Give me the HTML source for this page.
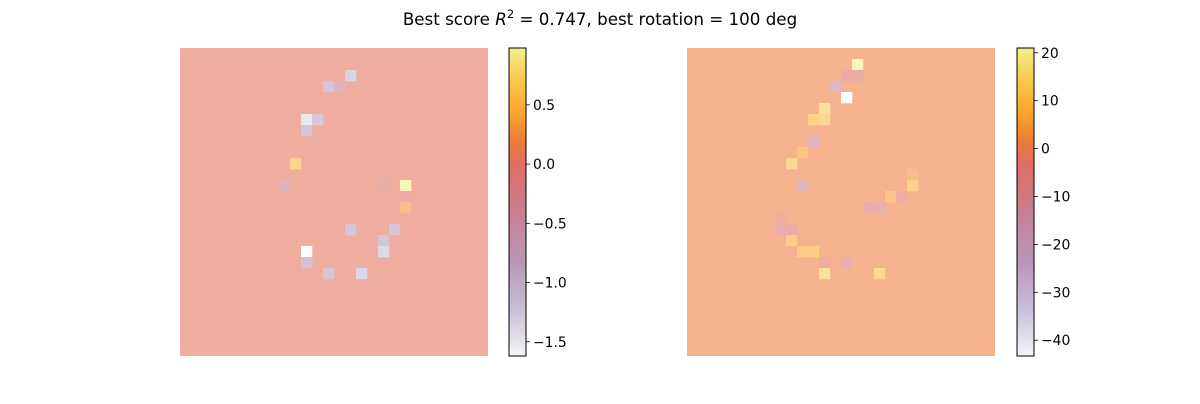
<!DOCTYPE html>
<html><head><meta charset="utf-8"><style>
body{margin:0;background:#fff;width:1200px;height:400px;overflow:hidden;font-family:"DejaVu Sans","Liberation Sans",sans-serif}
</style></head><body>
<svg id="fig" width="1200" height="400" xmlns="http://www.w3.org/2000/svg" font-family="DejaVu Sans, Liberation Sans, sans-serif">
<text x="600" y="25" text-anchor="middle" font-size="16.7" fill="#000">Best score <tspan font-style="italic">R</tspan><tspan dy="-7" font-size="11.5">2</tspan><tspan dy="7"> = 0.747, best rotation = 100 deg</tspan></text>
<defs>
<linearGradient id="cmap" x1="0" y1="1" x2="0" y2="0">
<stop offset="0" stop-color="#f4f4f4"/><stop offset="0.15" stop-color="#c8c0d8"/><stop offset="0.3" stop-color="#b898b8"/><stop offset="0.45" stop-color="#c88098"/><stop offset="0.62" stop-color="#de6e64"/><stop offset="0.7" stop-color="#ee7c38"/><stop offset="0.8" stop-color="#fca830"/><stop offset="0.9" stop-color="#f8c850"/><stop offset="1" stop-color="#f4f08a"/>
</linearGradient>
</defs>
</svg>
<script>
// Left heatmap data
const leftRows = [2,3,3,6,6,7,10,12,12,12,13,14,16,16,17,18,18,19,20,20];
const leftCols = [15,13,14,11,12,11,10,9,18,20,20,20,15,19,18,18,11,11,13,16];
const leftVals = [-1.1,-0.8,-0.3,-1.4,-0.9,-0.85,0.55,-0.3,-0.1,0.98,-0.05,0.3,-0.85,-0.85,-0.85,-1.2,-1.62,-0.75,-0.85,-1.15];
const leftBg = 0.05, leftMin = -1.62, leftMax = 0.98;
const leftTicks = [0.5,0,-0.5,-1,-1.5];
const leftTickLabels = ["0.5","0.0","\u22120.5","\u22121.0","\u22121.5"];
// Right heatmap data
const rightRows = [1,2,2,3,4,5,6,6,8,9,10,12,11,12,13,13,14,14,15,16,16,17,18,18,19,19,20,20,20];
const rightCols = [15,14,15,13,14,12,11,12,11,10,9,10,20,20,18,19,16,17,8,8,9,9,10,11,12,14,12,17,15];
const rightVals = [21,-4,-5,-15,-43,15,10,12,-12,6,12,-12,4,10,6,-2,-4,-8,-2,-8,-3,8,8,8,-2,-8,15,12,2];
const rightBg = 1, rightMin = -43.3, rightMax = 21;
const rightTicks = [20,10,0,-10,-20,-30,-40];
const rightTickLabels = ["20","10","0","\u221210","\u221220","\u221230","\u221240"];

const stops=[[0,[244,244,244]],[0.15,[200,192,216]],[0.3,[184,152,184]],[0.45,[200,128,152]],[0.62,[222,110,100]],[0.7,[238,124,56]],[0.8,[252,168,48]],[0.9,[248,200,80]],[1,[244,240,138]]];
function cmap(t){t=Math.max(0,Math.min(1,t));for(let i=1;i<stops.length;i++){if(t<=stops[i][0]){const a=stops[i-1],b=stops[i];const f=(t-a[0])/(b[0]-a[0]);const c=a[1].map((v,k)=>v+(b[1][k]-v)*f);return c;}}return stops[stops.length-1][1];}
function heatColor(t){const c=cmap(t).map(v=>Math.round(v+(255-v)*0.42));return `rgb(${c[0]},${c[1]},${c[2]})`;}
const NS="http://www.w3.org/2000/svg",svg=document.getElementById('fig');
function mk(tag,attrs,parent){const e=document.createElementNS(NS,tag);for(const k in attrs)e.setAttribute(k,attrs[k]);(parent||svg).appendChild(e);return e;}
function panel(x0,rows,cols,vals,bg,vmin,vmax,ticks,labels,name,cbx){
  const y0=48,size=308,cell=size/28;
  const g=mk('g',{});
  
  
  const tb=t=>(t-vmin)/(vmax-vmin);
  const bgr=mk('rect',{x:x0,y:y0,width:size,height:size,fill:heatColor(tb(bg))},g);
  
  
  const colX=c=>x0+c*cell, rowY=r=>y0+r*cell;
  for(let i=0;i<vals.length;i++){
    const v=vals[i];
    const fill=(v<=vmin+0.01*(vmax-vmin))?'#ffffff':heatColor(tb(v));
    const r=mk('rect',{x:colX(cols[i]),y:rowY(rows[i]),width:cell+0.3,height:cell+0.3,fill:fill},g);
    
    
  }
  const cb=mk('g',{});
  
  
  mk('rect',{x:cbx,y:y0,width:17,height:size,fill:'url(#cmap)',stroke:'#000','stroke-width':1},cb);
  const yv=v=>y0+size-(v-vmin)/(vmax-vmin)*size;
  for(let i=0;i<ticks.length;i++){
    const y=yv(ticks[i]);
    mk('line',{x1:cbx+17,x2:cbx+21,y1:y,y2:y,stroke:'#000','stroke-width':0.8},cb);
    const t=mk('text',{x:cbx+24,y:y+5,'font-size':13.9,fill:'#000'},cb);
    t.textContent=labels[i];
    
    
  }
}
panel(180,leftRows,leftCols,leftVals,leftBg,leftMin,leftMax,leftTicks,leftTickLabels,'left',509);
panel(687,rightRows,rightCols,rightVals,rightBg,rightMin,rightMax,rightTicks,rightTickLabels,'right',1017);
</script>
</body></html>
